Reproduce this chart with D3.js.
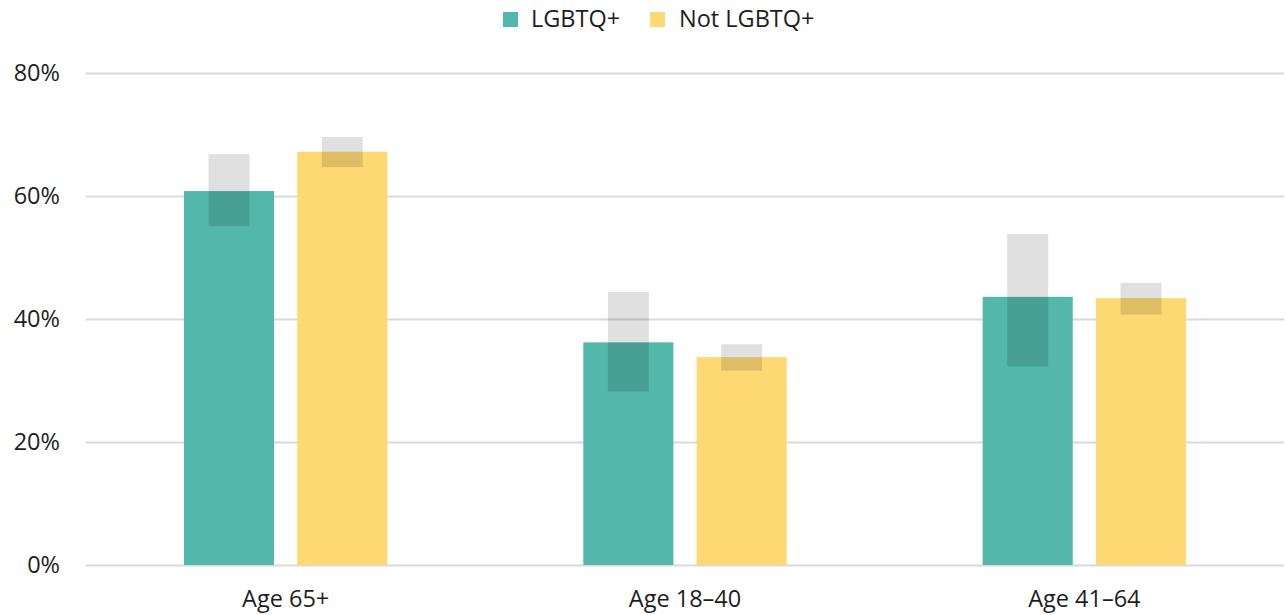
<!DOCTYPE html>
<html>
<head>
<meta charset="utf-8">
<script src="https://cdn.jsdelivr.net/npm/d3@7"></script>
<style>
  html, body { margin: 0; padding: 0; background: #fff; }
  svg { display: block; font-family: "Open Sans", "Noto Sans", sans-serif; }
</style>
</head>
<body>
<svg id="chart" width="1286" height="615"></svg>
<script>
// Share of respondents by age group, with confidence ranges
const categories = ["Age 65+", "Age 18–40", "Age 41–64"];
const seriesNames = ["LGBTQ+", "Not LGBTQ+"];
const lgbtqValues = [60.8, 36.2, 43.6];
const lgbtqLow = [55.1, 28.2, 32.3];
const lgbtqHigh = [66.8, 44.4, 53.8];
const notLgbtqValues = [67.2, 33.8, 43.4];
const notLgbtqLow = [64.7, 31.6, 40.7];
const notLgbtqHigh = [69.6, 35.9, 45.9];
const yTicks = [0, 20, 40, 60, 80];
const colors = ["#53b7a9", "#fed872"];

const rows = [];
categories.forEach((c, i) => {
  rows.push({ cat: c, series: seriesNames[0], value: lgbtqValues[i], low: lgbtqLow[i], high: lgbtqHigh[i] });
  rows.push({ cat: c, series: seriesNames[1], value: notLgbtqValues[i], low: notLgbtqLow[i], high: notLgbtqHigh[i] });
});

const svg = d3.select("#chart");
const margin = { left: 86, right: 2, top: 73, bottom: 50 };
const W = 1286, H = 615;
const fontSize = 23.5;

const x0 = d3.scaleBand().domain(categories).range([margin.left, W - margin.right]).padding(0);
const groupInset = 98;
const x1 = d3.scaleBand().domain(seriesNames)
  .range([groupInset, x0.bandwidth() - groupInset]).paddingInner(0.205).paddingOuter(0);
const y = d3.scaleLinear().domain([0, 80]).range([H - margin.bottom, margin.top]);
const color = d3.scaleOrdinal().domain(seriesNames).range(colors);

// Gridlines and y labels
const yAxis = d3.axisLeft(y).tickValues(yTicks).tickFormat(d => d + "%")
  .tickSize(-(W - margin.right - margin.left)).tickPadding(26);
const gy = svg.append("g").attr("transform", `translate(${margin.left},0)`).call(yAxis);
gy.select(".domain").remove();
gy.selectAll(".tick line").attr("stroke", "#d9d9d9").attr("stroke-width", 2);
gy.selectAll(".tick text").attr("fill", "#1e1e1e").attr("font-size", fontSize).attr("font-family", "Open Sans");

// Bars
const groups = svg.append("g").selectAll("g").data(categories).join("g")
  .attr("transform", d => `translate(${x0(d)},0)`);

groups.selectAll("rect.bar").data(c => rows.filter(r => r.cat === c)).join("rect")
  .attr("class", "bar")
  .attr("x", d => x1(d.series))
  .attr("width", x1.bandwidth())
  .attr("y", d => y(d.value))
  .attr("height", d => y(0) - y(d.value))
  .attr("fill", d => color(d.series));

// Confidence ranges
const errW = x1.bandwidth() * 0.455;
groups.selectAll("rect.err").data(c => rows.filter(r => r.cat === c)).join("rect")
  .attr("class", "err")
  .attr("x", d => x1(d.series) + (x1.bandwidth() - errW) / 2)
  .attr("width", errW)
  .attr("y", d => y(d.high))
  .attr("height", d => y(d.low) - y(d.high))
  .attr("fill", "#000")
  .attr("fill-opacity", 0.12);

// X labels
const xAxis = d3.axisBottom(x0).tickSize(0).tickPadding(25);
const gx = svg.append("g").attr("transform", `translate(0,${y(0)})`).call(xAxis);
gx.select(".domain").remove();
gx.selectAll(".tick text").attr("fill", "#1e1e1e").attr("font-size", fontSize).attr("font-family", "Open Sans");

// Legend
const legendItems = [
  { name: seriesNames[0], sx: 503, tx: 531 },
  { name: seriesNames[1], sx: 650, tx: 679 }
];
const lg = svg.append("g");
lg.selectAll("rect").data(legendItems).join("rect")
  .attr("x", d => d.sx).attr("y", 12).attr("width", 15).attr("height", 15)
  .attr("fill", d => color(d.name));
lg.selectAll("text").data(legendItems).join("text")
  .attr("x", d => d.tx).attr("y", 27)
  .attr("font-size", fontSize).attr("fill", "#1e1e1e")
  .text(d => d.name);
</script>
</body>
</html>
